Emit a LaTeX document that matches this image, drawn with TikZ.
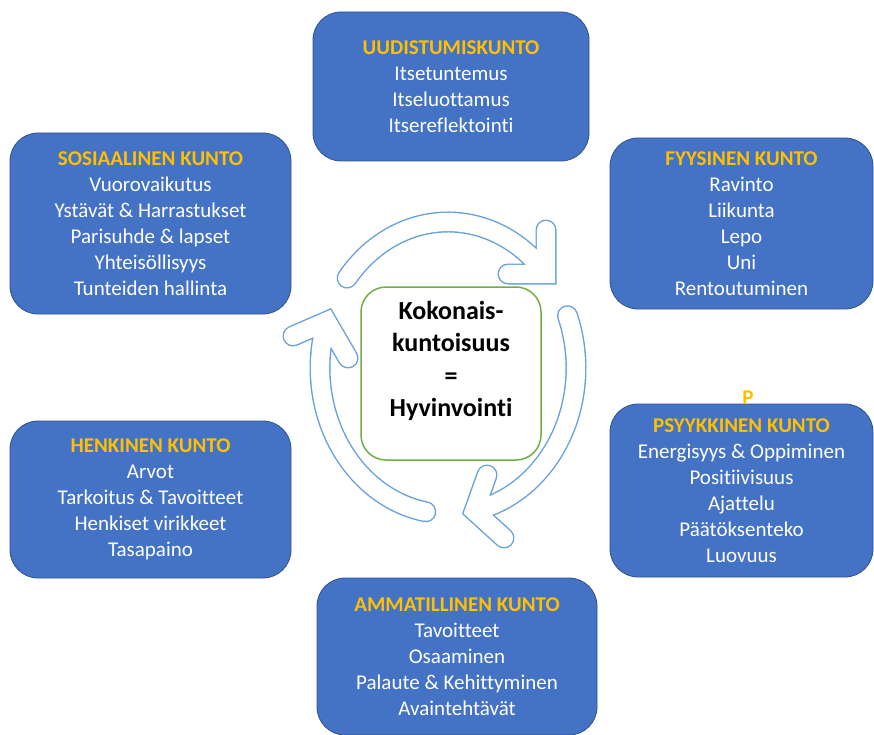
\documentclass[tikz,border=0pt]{standalone}
\usepackage{fontspec}
\setmainfont{Carlito}[Ligatures={NoCommon}]

\definecolor{boxblue}{RGB}{68,114,196}
\definecolor{boxedge}{RGB}{47,82,143}
\definecolor{titlegold}{RGB}{255,192,0}
\definecolor{ringblue}{RGB}{100,160,222}
\definecolor{coregreen}{RGB}{112,173,71}

\newcommand{\areatitle}[1]{\textcolor{titlegold}{\bfseries #1}}

\tikzset{
  area/.style={rectangle, rounded corners=28pt, fill=boxblue, draw=boxedge,
    line width=0.8pt, text=white, align=center, inner sep=0pt,
    font=\fontsize{21}{26}\selectfont},
  core/.style={rectangle, rounded corners=25pt, fill=white, draw=coregreen,
    line width=1.5pt, inner sep=0pt},
  coretext/.style={align=center, inner sep=0pt,
    font=\fontsize{26}{32.5}\selectfont\bfseries},
}

\begin{document}
\begin{tikzpicture}[x=1pt,y=1pt,yscale=-1]
\useasboundingbox (0,0) rectangle (874,735);

% three open circular arrows round the centre (outline drawn as a wide blue
% stroke with a narrower white stroke on top)
\foreach \w/\c in {21/ringblue, 18.2/white}{
  \draw[line width=\w pt, draw=\c, line cap=round, line join=miter]
    (347.1,278.1) arc[start angle=-142, end angle=-40, x radius=128, y radius=146]
    (546,230) -- (546,274) -- (508,274)
    (567.5,315.7) arc[start angle=-21, end angle=78.2, x radius=128, y radius=146]
    (487,475) -- (474.2,510.9) -- (504,538)
    (425.8,511.8) arc[start angle=100, end angle=198.6, x radius=128, y radius=146]
    (293,336) -- (326.7,321.4) -- (348,358);
}

% centre
\node[core, minimum width=180pt, minimum height=173pt] (core) at (451,373.5) {};
\node[coretext] (coreLabel) at (451,361)
  {Kokonais-\\kuntoisuus\\=\\Hyvinvointi};

% surrounding areas
\node[area, minimum width=276pt, minimum height=149pt] (uud) at (451,86.5)
  {\areatitle{UUDISTUMISKUNTO}\\Itsetuntemus\\Itseluottamus\\Itsereflektointi};

\node[area, minimum width=281pt, minimum height=181pt] (sos) at (150.5,223.5)
  {\areatitle{SOSIAALINEN KUNTO}\\Vuorovaikutus\\Ystävät \& Harrastukset\\Parisuhde \& lapset\\Yhteisöllisyys\\Tunteiden hallinta};

\node[area, minimum width=263pt, minimum height=171pt] (fyy) at (741.5,223.5)
  {\areatitle{FYYSINEN KUNTO}\\Ravinto\\Liikunta\\Lepo\\Uni\\Rentoutuminen};

\node[area, minimum width=263pt, minimum height=173pt] (psy) at (741.5,490.5)
  {\areatitle{PSYYKKINEN KUNTO}\\Energisyys \& Oppiminen\\Positiivisuus\\Ajattelu\\Päätöksenteko\\Luovuus};

\node[text=titlegold, inner sep=0pt, font=\fontsize{21}{26}\selectfont\bfseries]
  (psyMark) at (748,398) {P};

\node[area, minimum width=281pt, minimum height=157pt] (hen) at (150.5,499.5)
  {\areatitle{HENKINEN KUNTO}\\Arvot\\Tarkoitus \& Tavoitteet\\Henkiset virikkeet\\Tasapaino};

\node[area, minimum width=280pt, minimum height=157pt] (amm) at (457,656.5)
  {\areatitle{AMMATILLINEN KUNTO}\\Tavoitteet\\Osaaminen\\Palaute \& Kehittyminen\\Avaintehtävät};

\end{tikzpicture}
\end{document}
